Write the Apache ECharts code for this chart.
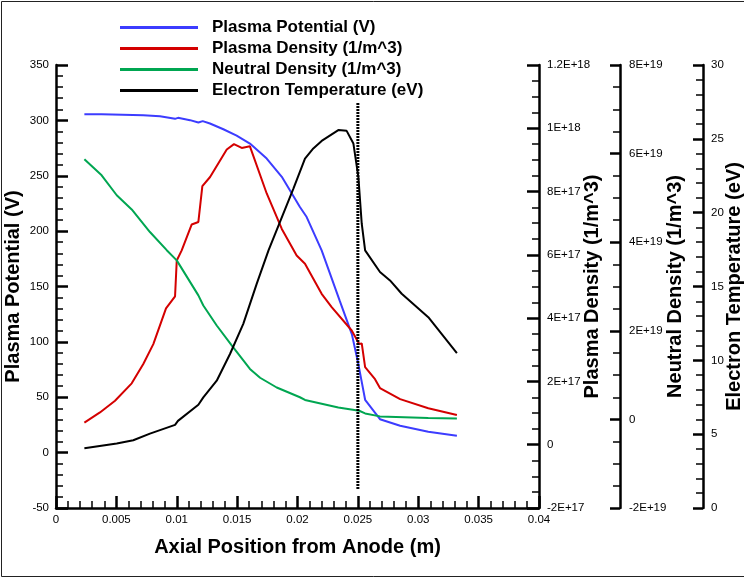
<!DOCTYPE html>
<html>
<head>
<meta charset="utf-8">
<script src="https://cdn.jsdelivr.net/npm/echarts@6/dist/echarts.min.js"></script>
<style>
html,body{margin:0;padding:0;background:#fff;}
#c{width:744px;height:578px;}
</style>
</head>
<body>
<div id="c"></div>
<script>
// ---- Data ----
const potX = [0.00235,0.00378,0.00723,0.00861,0.00986,0.0101,0.0111,0.01179,0.01215,0.01275,0.01386,0.01496,0.01606,0.01745,0.0187,0.0202,0.02076,0.0220,0.0235,0.0245,0.0250,0.0253,0.0256,0.02683,0.0285,0.03083,0.0332];
const potV = [305.6,305.6,304.7,303.8,301.4,302.3,300.2,298.1,299.3,297.2,292.0,286.3,279.1,265.5,249,221.8,212.7,182.6,137,107,82,65,47.7,30.2,24.2,18.8,15.2];

const denX = [0.00235,0.00364,0.00489,0.00627,0.00723,0.00806,0.00911,0.00986,0.0100,0.01041,0.01124,0.01179,0.01212,0.01276,0.01414,0.01474,0.01538,0.01606,0.01745,0.0187,0.01993,0.02062,0.0220,0.02283,0.02449,0.02511,0.02532,0.0256,0.02642,0.02683,0.0285,0.03083,0.0332];
const denV = [0.70e17,1.02e17,1.39e17,1.94e17,2.55e17,3.18e17,4.31e17,4.69e17,5.82e17,6.14e17,6.96e17,7.04e17,8.17e17,8.46e17,9.33e17,9.50e17,9.38e17,9.43e17,7.94e17,6.82e17,5.98e17,5.72e17,4.77e17,4.35e17,3.61e17,3.18e17,3.20e17,2.45e17,2.07e17,1.79e17,1.44e17,1.15e17,0.94e17];

const neuX = [0.00235,0.00378,0.00503,0.00627,0.00778,0.00917,0.0100,0.01179,0.0122,0.01331,0.01455,0.01606,0.0169,0.01828,0.0202,0.02062,0.02338,0.02511,0.0256,0.02683,0.03083,0.0332];
const neuV = [5.87e19,5.51e19,5.06e19,4.74e19,4.23e19,3.82e19,3.59e19,2.80e19,2.57e19,2.12e19,1.67e19,1.14e19,0.94e19,0.72e19,0.50e19,0.44e19,0.27e19,0.195e19,0.135e19,0.068e19,0.03e19,0.02e19];

const tempX = [0.00235,0.00503,0.0064,0.00778,0.00986,0.0101,0.01179,0.0122,0.01331,0.01441,0.01551,0.01662,0.0176,0.01855,0.01966,0.02062,0.02131,0.0220,0.02338,0.02407,0.02463,0.02504,0.02532,0.0256,0.02683,0.02766,0.02863,0.03083,0.0332];
const tempV = [4.05,4.37,4.59,5.04,5.63,5.90,6.99,7.49,8.62,10.43,12.47,15.18,17.45,19.37,21.63,23.66,24.35,24.86,25.59,25.54,24.68,22.42,19.25,17.45,15.98,15.41,14.51,12.92,10.48];

const exitX = [0.025,0.025];
const exitV = [315.6,-32.8];

const seriesNames = ['Plasma Potential (V)','Plasma Density (1/m^3)','Neutral Density (1/m^3)','Electron Temperature (eV)'];
const exitLabel = 'Exit Plane';
const xTitle = 'Axial Position from Anode (m)';

// ---- helpers ----
const zip = (xs, ys) => xs.map((x, i) => [x, ys[i]]);
function sci(v){
  if (Math.abs(v) < 1e6) return '0';
  const e = Math.floor(Math.log10(Math.abs(v)) + 1e-9);
  const m = Math.round(v / Math.pow(10, e) * 10) / 10;
  return m + 'E+' + e;
}
const FONT = "'Liberation Sans', Arial, sans-serif";
const labelStyle = {color:'#000', fontSize:11.5, fontFamily:FONT};
const nameStyle = {color:'#000', fontSize:20, fontWeight:'bold', fontFamily:FONT};
const lineAx = {show:true, onZero:false, lineStyle:{color:'#000', width:2.5}};
const tickAx = {show:true, inside:true, length:12, lineStyle:{color:'#000', width:2.5}};
function minor(n){ return {show:true, splitNumber:n, length:7, lineStyle:{color:'#000', width:1.5}}; }

const chart = echarts.init(document.getElementById('c'), null, {renderer:'canvas'});
const option = {
  animation:false,
  backgroundColor:'#fff',
  grid:{left:56, right:205, top:65, bottom:70, containLabel:false, outerBoundsMode:'none'},
  legend:{
    data:seriesNames,
    orient:'vertical', left:115, top:14,
    icon:'rect', itemWidth:78, itemHeight:3, itemGap:4,
    formatter: '{g|}{name}',
    textStyle:{color:'#000', fontSize:17, fontWeight:'bold', fontFamily:FONT, lineHeight:17,
      rich:{g:{width:9}}},
    selectedMode:false
  },
  xAxis:{
    type:'value', min:0, max:0.04, interval:0.005,
    name:xTitle, nameLocation:'middle', nameGap:29, nameTextStyle:nameStyle,
    axisLine:lineAx, axisTick:tickAx, minorTick:minor(5),
    splitLine:{show:false},
    axisLabel:{...labelStyle, margin:6, formatter:v => v === 0 ? '0' : String(parseFloat(v.toFixed(4)))}
  },
  yAxis:[
    {type:'value', position:'left', min:-50, max:350, interval:50,
     name:seriesNames[0], nameLocation:'middle', nameGap:33, nameRotate:90, nameMoveOverlap:false, nameTextStyle:nameStyle,
     axisLine:lineAx, axisTick:tickAx, minorTick:minor(5), splitLine:{show:false},
     axisLabel:{...labelStyle, margin:7}},
    {type:'value', position:'right', offset:0, min:-2e17, max:1.2e18, interval:2e17,
     name:seriesNames[1], nameLocation:'middle', nameGap:43, nameRotate:90, nameMoveOverlap:false, nameTextStyle:nameStyle,
     axisLine:lineAx, axisTick:tickAx, minorTick:minor(4), splitLine:{show:false},
     axisLabel:{...labelStyle, margin:8, formatter:sci}},
    {type:'value', position:'right', offset:81, min:-2e19, max:8e19, interval:2e19,
     name:seriesNames[2], nameLocation:'middle', nameGap:45, nameRotate:90, nameMoveOverlap:false, nameTextStyle:nameStyle,
     axisLine:lineAx, axisTick:{...tickAx, length:10}, minorTick:minor(4), splitLine:{show:false},
     axisLabel:{...labelStyle, margin:9, formatter:sci}},
    {type:'value', position:'right', offset:164, min:0, max:30, interval:5,
     name:seriesNames[3], nameLocation:'middle', nameGap:21, nameRotate:90, nameMoveOverlap:false, nameTextStyle:nameStyle,
     axisLine:lineAx, axisTick:{...tickAx, length:10}, minorTick:minor(5), splitLine:{show:false},
     axisLabel:{...labelStyle, margin:8}}
  ],
  series:[
    {name:seriesNames[0], type:'line', yAxisIndex:0, data:zip(potX,potV), showSymbol:false, symbol:'none',
     lineStyle:{color:'#3c3cff', width:2}, itemStyle:{color:'#3c3cff'}},
    {name:seriesNames[1], type:'line', yAxisIndex:1, data:zip(denX,denV), showSymbol:false, symbol:'none',
     lineStyle:{color:'#d40000', width:2}, itemStyle:{color:'#d40000'}},
    {name:seriesNames[2], type:'line', yAxisIndex:2, data:zip(neuX,neuV), showSymbol:false, symbol:'none',
     lineStyle:{color:'#00a651', width:2}, itemStyle:{color:'#00a651'}},
    {name:seriesNames[3], type:'line', yAxisIndex:3, data:zip(tempX,tempV), showSymbol:false, symbol:'none',
     lineStyle:{color:'#000', width:2}, itemStyle:{color:'#000'}},
    {name:'exit', type:'line', yAxisIndex:0, silent:true, symbol:'none',
     data:[
       {value:[exitX[0],exitV[0]], label:{show:true, formatter:exitLabel, position:'right', distance:8, offset:[0,13],
         color:'#000', fontSize:17, fontWeight:'bold', fontFamily:FONT}},
       {value:[exitX[1],exitV[1]]}
     ],
     lineStyle:{color:'#000', width:3, type:[2,1]}, z:5}
  ],
  graphic:[
    {type:'rect', shape:{x:1.5,y:1.5,width:800,height:575}, style:{fill:'none', stroke:'#222', lineWidth:1}, silent:true}
  ]
};
chart.setOption(option);
</script>
</body>
</html>
